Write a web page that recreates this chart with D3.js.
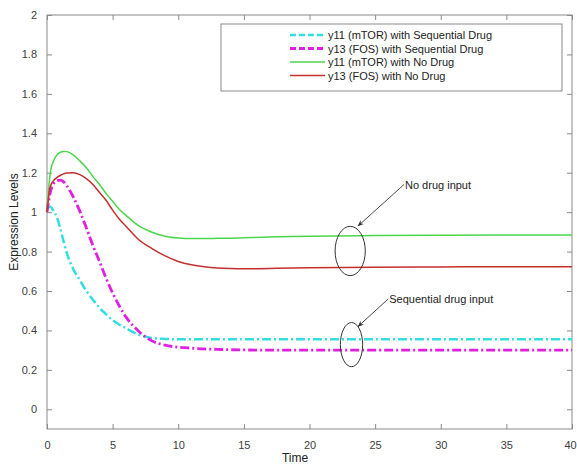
<!DOCTYPE html>
<html>
<head>
<meta charset="utf-8">
<script src="https://cdn.jsdelivr.net/npm/d3@7"></script>
<style>
  html, body { margin: 0; padding: 0; background: #fff; }
  svg { display: block; font-family: "Liberation Sans", Arial, Helvetica, sans-serif; }
</style>
</head>
<body>
<svg id="chart" width="577" height="465"></svg>
<script>
// ---- data ----
const time = [0, 0.25, 0.5, 0.75, 1, 1.25, 1.5, 2, 2.5, 3, 3.5, 4, 4.5, 5, 5.5, 6, 7, 8, 9, 10, 11, 12, 13, 14, 15, 17.5, 20, 25, 30, 35, 40];
const y11Seq = [1.02, 1.027, 1.005, 0.975, 0.92, 0.855, 0.795, 0.712, 0.655, 0.60, 0.556, 0.515, 0.482, 0.452, 0.43, 0.412, 0.378, 0.362, 0.357, 0.355, 0.355, 0.355, 0.355, 0.355, 0.355, 0.355, 0.355, 0.355, 0.355, 0.355, 0.355];
const y13Seq = [1.0, 1.10, 1.145, 1.158, 1.162, 1.155, 1.135, 1.077, 1.005, 0.92, 0.83, 0.75, 0.665, 0.59, 0.525, 0.47, 0.395, 0.347, 0.325, 0.315, 0.31, 0.306, 0.304, 0.302, 0.301, 0.30, 0.30, 0.30, 0.30, 0.30, 0.30];
const y11No = [1.0, 1.2, 1.26, 1.29, 1.303, 1.308, 1.307, 1.29, 1.26, 1.225, 1.18, 1.14, 1.095, 1.055, 1.015, 0.985, 0.93, 0.898, 0.878, 0.869, 0.866, 0.866, 0.867, 0.868, 0.870, 0.875, 0.878, 0.881, 0.883, 0.884, 0.884];
const y13No = [1.0, 1.13, 1.16, 1.175, 1.186, 1.194, 1.199, 1.2, 1.19, 1.17, 1.14, 1.10, 1.06, 1.01, 0.965, 0.93, 0.86, 0.815, 0.778, 0.75, 0.733, 0.723, 0.717, 0.714, 0.713, 0.715, 0.718, 0.721, 0.722, 0.723, 0.723];
const seriesNames = ["y11 (mTOR) with Sequential Drug", "y13 (FOS) with Sequential Drug", "y11 (mTOR) with No Drug", "y13 (FOS) with No Drug"];
const xTicks = [0, 5, 10, 15, 20, 25, 30, 35, 40];
const yTicks = [0, 0.2, 0.4, 0.6, 0.8, 1, 1.2, 1.4, 1.6, 1.8, 2];
const annotations = [
  { text: "No drug input", cx: 23.1, cy: 0.803, rt: 1.15, rv: 0.125, tx: 27.2, ty: 1.14, ax: 23.7, ay: 0.93 },
  { text: "Sequential drug input", cx: 23.2, cy: 0.328, rt: 0.85, rv: 0.112, tx: 26.0, ty: 0.56, ax: 23.7, ay: 0.42 }
];

// ---- layout ----
const svg = d3.select("#chart");
const mLeft = 47, mRight = 572, mTop = 15, mBottom = 429;
const x = d3.scaleLinear().domain([0, 40]).range([mLeft, mRight]);
const y = d3.scaleLinear().domain([-0.1, 2]).range([mBottom, mTop]);
const axisColor = "#8a8a8a", textColor = "#404040";

svg.append("rect").attr("x", mLeft).attr("y", mTop).attr("width", mRight - mLeft).attr("height", mBottom - mTop)
  .attr("fill", "none").attr("stroke", axisColor).attr("stroke-width", 1);

// axes (inward ticks, MATLAB style)
const gx = svg.append("g").attr("transform", `translate(0,${mBottom})`)
  .call(d3.axisBottom(x).tickValues(xTicks).tickSizeInner(-5).tickSizeOuter(0).tickPadding(12).tickFormat(d3.format("d")));
const gxt = svg.append("g").attr("transform", `translate(0,${mTop})`)
  .call(d3.axisTop(x).tickValues(xTicks).tickSizeInner(-5).tickSizeOuter(0).tickFormat(""));
const gy = svg.append("g").attr("transform", `translate(${mLeft},0)`)
  .call(d3.axisLeft(y).tickValues(yTicks).tickSizeInner(-5).tickSizeOuter(0).tickPadding(10).tickFormat(d => String(+d.toFixed(1))));
const gyr = svg.append("g").attr("transform", `translate(${mRight},0)`)
  .call(d3.axisRight(y).tickValues(yTicks).tickSizeInner(-5).tickSizeOuter(0).tickFormat(""));
[gx, gxt, gy, gyr].forEach(g => {
  g.select(".domain").remove();
  g.selectAll(".tick line").attr("stroke", axisColor);
  g.selectAll(".tick text").attr("fill", textColor).style("font-size", "11px")
   .style("font-family", "'Liberation Sans', Arial, sans-serif");
});
// keep the last x label inside the page
gx.selectAll(".tick text").filter(d => d === 40).attr("dx", "-2");

// axis labels
svg.append("text").attr("x", 295).attr("y", 462).attr("text-anchor", "middle")
  .attr("fill", "#222").style("font-size", "12px").text("Time");
svg.append("text").attr("transform", "translate(18,222) rotate(-90)").attr("text-anchor", "middle")
  .attr("fill", "#222").style("font-size", "12px").text("Expression Levels");

// lines
const series = [
  { name: seriesNames[0], values: y11Seq, color: "#34dde2", width: 2.5, dash: "9,3,2,3" },
  { name: seriesNames[1], values: y13Seq, color: "#e020e0", width: 2.8, dash: "9,3,2,3" },
  { name: seriesNames[2], values: y11No, color: "#4cd64c", width: 1.5, dash: null },
  { name: seriesNames[3], values: y13No, color: "#c4302e", width: 1.5, dash: null }
];
const line = d3.line().x(d => x(d[0])).y(d => y(d[1])).curve(d3.curveMonotoneX);
const plot = svg.append("g");
series.forEach(s => {
  plot.append("path").datum(time.map((t, i) => [t, s.values[i]]))
    .attr("d", line).attr("fill", "none").attr("stroke", s.color)
    .attr("stroke-width", s.width).attr("stroke-dasharray", s.dash);
});

// annotations
const defs = svg.append("defs");
defs.append("marker").attr("id", "arrow").attr("viewBox", "0 0 10 10").attr("refX", 9).attr("refY", 5)
  .attr("markerWidth", 7).attr("markerHeight", 7).attr("orient", "auto")
  .append("path").attr("d", "M0,1 L10,5 L0,9 L3,5 Z").attr("fill", "#333");
annotations.forEach(a => {
  svg.append("ellipse").attr("cx", x(a.cx)).attr("cy", y(a.cy))
    .attr("rx", x(a.rt) - x(0)).attr("ry", y(0) - y(a.rv))
    .attr("fill", "none").attr("stroke", "#333").attr("stroke-width", 1);
  svg.append("line").attr("x1", x(a.tx)).attr("y1", y(a.ty)).attr("x2", x(a.ax)).attr("y2", y(a.ay))
    .attr("stroke", "#333").attr("stroke-width", 0.9).attr("marker-end", "url(#arrow)");
  svg.append("text").attr("x", x(a.tx) + 1).attr("y", y(a.ty) + 4).attr("fill", "#222")
    .style("font-size", "11px").text(a.text);
});

// legend
const lg = svg.append("g");
lg.append("rect").attr("x", 221).attr("y", 24).attr("width", 341).attr("height", 67)
  .attr("fill", "#fff").attr("stroke", axisColor).attr("stroke-width", 1);
series.forEach((s, i) => {
  const yy = 35 + i * 13.5;
  lg.append("line").attr("x1", 290).attr("x2", 325).attr("y1", yy).attr("y2", yy)
    .attr("stroke", s.color).attr("stroke-width", s.width).attr("stroke-dasharray", s.dash ? "6,3" : null);
  lg.append("text").attr("x", 328).attr("y", yy + 4).attr("fill", "#222")
    .style("font-size", "11px").text(s.name);
});
</script>
</body>
</html>
